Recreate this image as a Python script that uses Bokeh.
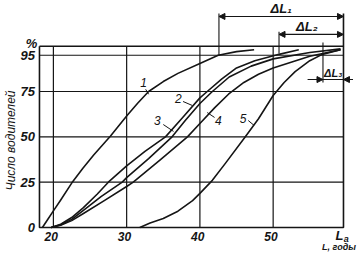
import math
from bokeh.plotting import figure
from bokeh.models import Range1d, Label, Arrow, NormalHead
from bokeh.core.properties import value
from bokeh.embed import file_html
from bokeh.resources import INLINE

# ---- data ----
x_ticks = [20, 30, 40, 50]
y_ticks = [0, 25, 50, 75, 95]

c1_x = [18.5, 19.2, 20, 21, 22.5, 24, 25.5, 27.8, 30, 31.5, 33, 35, 37, 40, 42.5, 45, 47.4]
c1_y = [0, 4.3, 9.2, 15.2, 24.5, 32.5, 40, 50.5, 61.5, 68.5, 75, 80.5, 85, 90.5, 95, 97, 98]

c2_x = [19.7, 21, 22.5, 24.1, 26, 27.5, 30, 32.5, 35.3, 37.5, 40, 41, 43, 45, 47.5, 50.8, 53.5]
c2_y = [0, 1.8, 5.5, 11, 18.5, 25, 34, 42, 50, 60, 71.5, 75, 82, 88, 92, 95.5, 98]

c3_x = [19.7, 21, 22.5, 24.1, 26.5, 29.4, 30, 33, 36.2, 38, 40, 41.7, 44, 47, 50, 55, 59.2]
c3_y = [0, 1.5, 4.5, 9.4, 17, 25, 27.5, 38, 50, 59, 68.4, 75, 83, 89, 93, 96.5, 98.5]

c4_x = [19.7, 21, 22.5, 24.1, 27, 30, 30.9, 34.5, 38.3, 40, 42, 43.9, 46, 48, 50, 55, 59.2]
c4_y = [0, 1.2, 3.8, 7.7, 15, 22.6, 25, 37, 50, 57.4, 66, 73.5, 80, 84.5, 88, 94.5, 98]

c5_x = [31.8, 33.2, 35, 37, 39, 40, 41.7, 43.5, 46.2, 48, 50, 51.5, 53, 55, 56.7, 59.2]
c5_y = [0, 2.5, 5, 9, 14.8, 18.8, 26, 35.5, 50, 60, 72.8, 80, 86, 92, 95.5, 98]

curve_names = ["1", "2", "3", "4", "5"]
label_x = [32.3, 37.05, 34.2, 42.5, 45.9]
label_y = [80, 71.2, 59, 59, 60]
leader_x0 = [32.6, 37.7, 35.0, 42.0, 46.6]
leader_y0 = [76.2, 69.5, 56.8, 60.7, 59.0]
leader_x1 = [33.0, 38.96, 36.4, 41.0, 47.4]
leader_y1 = [73.5, 67.3, 53.0, 63.4, 56.3]

# ΔL: ages at which curves 1, 2, 5 reach 95 %, and the maximal age
dl_names = ["ΔL₁", "ΔL₂", "ΔL₃"]
dl_start = [42.6, 50.8, 56.8]
dl_end = 59.6
age_min = 18.1
pct_max = 100

FONT = "Liberation Sans"
INK = "#151515"

# frame fills the whole canvas; the chart box is drawn inside it
p = figure(width=358, height=260, x_range=Range1d(12.78, 61.65), y_range=Range1d(-18.2, 125.2),
           output_backend="svg", toolbar_location=None,
           min_border_left=0, min_border_right=0, min_border_top=0, min_border_bottom=0)
p.outline_line_color = None
p.grid.visible = False
p.axis.visible = False
p.background_fill_color = "white"
p.border_fill_color = "white"

# grid
p.segment(x0=x_ticks, y0=[0] * len(x_ticks), x1=x_ticks, y1=[pct_max] * len(x_ticks),
          line_color=INK, line_width=1.2)
hy = y_ticks[1:]
p.segment(x0=[age_min] * len(hy), y0=hy, x1=[dl_end] * len(hy), y1=hy,
          line_color=INK, line_width=1.2)
# box
p.line([age_min, age_min, dl_end, dl_end, age_min], [pct_max, 0, 0, pct_max, pct_max],
       line_color=INK, line_width=1.6)

# tick labels
p.text(x=[t - 0.3 for t in x_ticks], y=[-5.0] * len(x_ticks), text=[str(t) for t in x_ticks],
       text_font=value(FONT), text_font_style="bold italic", text_font_size="12px",
       text_align="center", text_baseline="middle", text_color=INK)
p.text(x=[age_min - 0.62] * len(y_ticks), y=y_ticks, text=[str(t) for t in y_ticks],
       text_font=value(FONT), text_font_style="bold italic", text_font_size="13px",
       text_align="right", text_baseline="middle", text_color=INK)

# curves
for cx, cy in [(c1_x, c1_y), (c2_x, c2_y), (c3_x, c3_y), (c4_x, c4_y), (c5_x, c5_y)]:
    p.line(cx, cy, line_color=INK, line_width=1.6, line_join="round")

# curve labels and leaders
p.segment(x0=leader_x0, y0=leader_y0, x1=leader_x1, y1=leader_y1, line_color=INK, line_width=1)
p.text(x=label_x, y=label_y, text=curve_names, text_font=value(FONT), text_font_style="italic",
       text_font_size="12px", text_align="center", text_baseline="middle", text_color=INK)

# ΔL dimension lines
dl_y = [116.4, 106.5, 81.6]
dl_top = [118, 108, 102]
dl_bot = [95, 96, 80]
p.segment(x0=dl_start, y0=dl_bot, x1=dl_start, y1=dl_top, line_color=INK, line_width=1.1)
p.segment(x0=[dl_end], y0=[pct_max], x1=[dl_end], y1=[118], line_color=INK, line_width=1.6)
for i in range(2):
    p.add_layout(Arrow(x_start=dl_start[i], y_start=dl_y[i], x_end=dl_end, y_end=dl_y[i],
                       line_color=INK, line_width=1.1,
                       start=NormalHead(size=6, fill_color=INK, line_color=INK),
                       end=NormalHead(size=6, fill_color=INK, line_color=INK)))
p.segment(x0=[54.7], y0=[dl_y[2]], x1=[60.9], y1=[dl_y[2]], line_color=INK, line_width=1.1)
p.add_layout(Arrow(x_start=55.5, y_start=dl_y[2], x_end=dl_start[2], y_end=dl_y[2],
                   line_color=INK, line_width=1.1,
                   end=NormalHead(size=6, fill_color=INK, line_color=INK)))
p.add_layout(Arrow(x_start=60.9, y_start=dl_y[2], x_end=dl_end, y_end=dl_y[2],
                   line_color=INK, line_width=1.1,
                   end=NormalHead(size=6, fill_color=INK, line_color=INK)))

dl_lx = [51.1, 54.6, 58.2]
dl_ly = [121.0, 110.8, 85.3]
dl_fs = ["13px", "13px", "11px"]
for t, lx, ly, fs in zip(dl_names, dl_lx, dl_ly, dl_fs):
    p.add_layout(Label(x=lx, y=ly, text=t, text_font=FONT, text_font_style="bold italic",
                       text_font_size=fs, text_align="center", text_baseline="middle",
                       text_color=INK))

# axis texts
p.add_layout(Label(x=17.0, y=101.5, text="%", text_font=FONT, text_font_style="bold italic",
                   text_font_size="13px", text_align="center", text_baseline="middle",
                   text_color=INK))
p.add_layout(Label(x=14.2, y=48, text="Число водителей", text_font=FONT,
                   text_font_style="italic", text_font_size="12px", text_align="center",
                   text_baseline="middle", angle=math.pi / 2, text_color=INK))
p.add_layout(Label(x=59.06, y=-0.3, text="L", text_font=FONT, text_font_style="bold italic",
                   text_font_size="13px", text_align="center", text_baseline="top",
                   text_color=INK))
p.add_layout(Label(x=59.62, y=-6.2, text="a", text_font=FONT, text_font_style="bold italic",
                   text_font_size="9px", text_align="left", text_baseline="alphabetic",
                   text_color=INK))
p.add_layout(Label(x=61.3, y=-7.8, text="L, годы", text_font=FONT,
                   text_font_style="bold italic", text_font_size="9px", text_align="right",
                   text_baseline="top", text_color=INK))

open("out.html", "w").write(file_html(p, INLINE))
